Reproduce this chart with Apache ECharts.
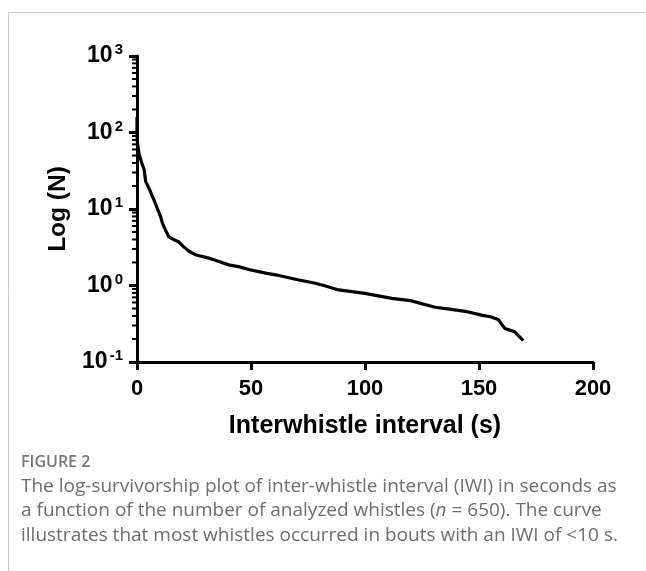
<!DOCTYPE html>
<html>
<head>
<meta charset="utf-8">
<script src="https://cdn.jsdelivr.net/npm/echarts@6/dist/echarts.min.js"></script>
<style>
html,body{margin:0;padding:0;background:#fff;}
#chart{width:646px;height:571px;}
</style>
</head>
<body>
<div id="chart"></div>
<script>
// Interwhistle interval (s)
var intervalS = [0,0,0.2,0.9,2.1,3.1,3.8,5.5,6.7,7.5,9,10.4,11.1,12.5,14.0,16,18.4,20.5,22.8,26,31.5,35,40.3,45,49,56.4,60.7,70,78.2,82,88.4,100,111.7,120,130.7,137,143.9,151.1,155,158.4,160,161.4,165.7,169.4];
// Survivorship N
var survN = [160,100,74,52,40,33,23,18,14.7,13,10,7.9,6.6,5.3,4.3,4.0,3.7,3.2,2.8,2.5,2.28,2.1,1.86,1.75,1.62,1.45,1.38,1.2,1.07,1.0,0.875,0.79,0.68,0.634,0.52,0.49,0.46,0.41,0.39,0.36,0.31,0.275,0.248,0.19];
var xTicks = [0,50,100,150,200];
var yDecades = [0.1,1,10,100,1000];
var minorMultipliers = [2,3,4,5,6,7,8,9];

var curve = intervalS.map(function(x,i){return [x, survN[i]];});
var minorTicks = [];
for (var d = 0; d < yDecades.length - 1; d++) {
  for (var m = 0; m < minorMultipliers.length; m++) {
    minorTicks.push([0, yDecades[d] * minorMultipliers[m]]);
  }
}

var chart = echarts.init(document.getElementById('chart'));
var axisFont = 'Liberation Sans, Arial, sans-serif';
var capFont = 'Open Sans, sans-serif';
var capColor = '#6e6e6e';

chart.setOption({
  animation: false,
  grid: {left: 137, right: 53, top: 56, bottom: 209, containLabel: false},
  xAxis: {
    type: 'value', min: 0, max: 200, interval: 50,
    axisLine: {show: true, lineStyle: {color: '#000', width: 3}},
    axisTick: {show: true, length: 8, lineStyle: {color: '#000', width: 3}},
    splitLine: {show: false},
    axisLabel: {margin: 16, color: '#000', fontFamily: axisFont, fontWeight: 'bold', fontSize: 22,
      formatter: function(v){return xTicks.indexOf(v) >= 0 ? String(v) : '';}},
    name: 'Interwhistle interval (s)', nameLocation: 'middle', nameGap: 52,
    nameTextStyle: {color: '#000', fontFamily: axisFont, fontWeight: 'bold', fontSize: 25}
  },
  yAxis: {
    type: 'log', logBase: 10, min: 0.1, max: 1000,
    axisLine: {show: true, onZero: false, lineStyle: {color: '#000', width: 3}},
    axisTick: {show: true, length: 8, lineStyle: {color: '#000', width: 3}},
    splitLine: {show: false},
    axisLabel: {margin: 14, color: '#000', fontFamily: axisFont, fontWeight: 'bold',
      formatter: function(v){
        var e = Math.round(Math.log(v)/Math.LN10);
        return '{b|10}{s|' + e + '}';
      },
      rich: {
        b: {fontSize: 23, fontWeight: 'bold', fontFamily: axisFont, color: '#000'},
        s: {fontSize: 15, fontWeight: 'bold', fontFamily: axisFont, color: '#000', padding: [0,0,12,2]}
      }
    },
    name: 'Log (N)', nameLocation: 'middle', nameGap: 66, nameRotate: 90,
    nameTextStyle: {color: '#000', fontFamily: axisFont, fontWeight: 'bold', fontSize: 24.5}
  },
  series: [
    {
      type: 'line', data: curve, showSymbol: false, symbol: 'none',
      lineStyle: {color: '#000', width: 3.2, join: 'round'}, clip: false, z: 3
    },
    {
      type: 'custom', data: minorTicks, clip: false, silent: true, z: 4,
      renderItem: function(params, api){
        var p = api.coord([api.value(0), api.value(1)]);
        return {type: 'line', shape: {x1: p[0] - 5, y1: p[1], x2: p[0], y2: p[1]},
          style: {stroke: '#000', lineWidth: 2}};
      }
    }
  ],
  graphic: [
    {type: 'rect', shape: {x: 8.5, y: 12.5, width: 800, height: 800},
      style: {fill: 'none', stroke: '#cccccc', lineWidth: 1}, silent: true},
    {type: 'text', left: 21, top: 454, style: {text: 'FIGURE 2', font: '600 16px ' + capFont, fill: '#777'}},
    {type: 'text', left: 21, top: 477, style: {text: 'The log-survivorship plot of inter-whistle interval (IWI) in seconds as', font: '19px ' + capFont, fill: capColor}},
    {type: 'text', left: 21, top: 501, style: {
      text: '{a|a function of the number of analyzed whistles (}{i|n}{a| = 650). The curve}',
      rich: {a: {font: '19px ' + capFont, fill: capColor}, i: {font: 'italic 19px ' + capFont, fill: capColor}}}},
    {type: 'text', left: 21, top: 526, style: {text: 'illustrates that most whistles occurred in bouts with an IWI of <10 s.', font: '19px ' + capFont, fill: capColor}}
  ]
});
</script>
</body>
</html>
